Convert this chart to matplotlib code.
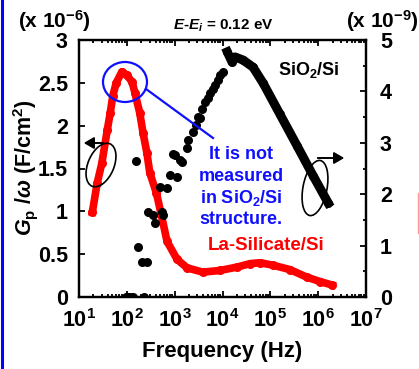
import matplotlib
matplotlib.use("Agg")
import matplotlib.pyplot as plt
import matplotlib.ticker as mticker
import matplotlib.transforms as mtransforms
from matplotlib.patches import Ellipse, FancyArrowPatch
from matplotlib.lines import Line2D

# La-Silicate/Si  (left axis, x 1e-6 F/cm2)
la_freq = [19, 24, 30, 39, 45, 51, 60, 79, 100, 129, 148, 186, 219, 263, 302,
           417, 525, 692, 1120, 1820, 3890, 8910, 20400, 38000, 61700,
           115000, 257000, 589000, 1.1e6, 1.95e6]
la_gp = [0.99, 1.33, 1.56, 1.95, 2.15, 2.35, 2.50, 2.63, 2.59, 2.51, 2.38,
         2.15, 1.91, 1.68, 1.45, 1.21, 0.96, 0.65, 0.44, 0.34, 0.29, 0.31,
         0.35, 0.39, 0.40, 0.37, 0.32, 0.23, 0.18, 0.14]

# SiO2/Si (right axis, x 1e-9 F/cm2) - scattered low-frequency part
si_freq_lo = [95, 105, 117, 135, 155, 170, 209, 229, 263, 275, 355, 389, 490,
              550, 575, 692, 794, 933, 1020, 1120, 1290, 1410, 1820, 1910,
              2400, 2820, 3090, 3390, 3800, 4370, 4900, 5500, 6300, 7080,
              7940, 8910, 10200]
si_gp_lo = [0, 0, 0, 0, 2.65, 0.97, 0.68, 0, 0.68, 1.65, 1.60, 1.44, 2.14,
            1.65, 1.60, 2.12, 2.37, 2.78, 2.76, 2.33, 2.67, 2.63, 2.90, 3.05,
            3.21, 3.35, 3.50, 3.48, 3.66, 3.79, 3.88, 3.97, 4.05, 4.12, 4.22,
            4.32, 4.38]
# SiO2/Si - continuous high-frequency part
si_freq_hi = [12600, 15800, 18200, 26900, 43600, 70800, 158000, 363000,
              794000, 1.62e6]
si_gp_hi = [4.77, 4.57, 4.67, 4.61, 4.47, 4.16, 3.56, 2.94, 2.35, 1.83]

x_ticks = [1e1, 1e2, 1e3, 1e4, 1e5, 1e6, 1e7]
x_labels = [r"$\mathbf{10^{%d}}$" % e for e in range(1, 8)]
yl_ticks = [0, 0.5, 1, 1.5, 2, 2.5, 3]
yl_labels = ["0", "0.5", "1", "1.5", "2", "2.5", "3"]
yr_ticks = [0, 1, 2, 3, 4, 5]
yr_labels = ["0", "1", "2", "3", "4", "5"]

W, H = 419, 369
RED = "#ff0000"
BLUE = "#1010ff"

plt.rcParams["font.family"] = "Liberation Sans"
plt.rcParams["font.weight"] = "bold"
plt.rcParams["mathtext.fontset"] = "custom"
plt.rcParams["mathtext.rm"] = "Liberation Sans:bold"
plt.rcParams["mathtext.bf"] = "Liberation Sans:bold"
plt.rcParams["mathtext.it"] = "Liberation Sans:italic:bold"
plt.rcParams["mathtext.bfit"] = "Liberation Sans:italic:bold"
plt.rcParams["mathtext.default"] = "bf"

fig = plt.figure(figsize=(W / 100, H / 100), dpi=100)
ax = fig.add_axes([79 / W, 1 - 297 / H, (366 - 79) / W, (297 - 40) / H])
ax2 = ax.twinx()

ax.plot(la_freq, la_gp, "-o", color=RED, lw=5.5, ms=6.5, mec="none", zorder=3)
ax2.plot(si_freq_lo, si_gp_lo, "o", color="black", ms=6.5, mec="none", zorder=3)
ax2.plot(si_freq_hi, si_gp_hi, "-o", color="black", lw=6.5, ms=6.5, mec="none", zorder=3)

ax.set_xscale("log")
ax.set_xlim(10, 1e7)
ax.set_ylim(0, 3)
ax2.set_ylim(0, 5)
ax.set_xticks(x_ticks, x_labels)
ax.xaxis.set_minor_locator(mticker.LogLocator(base=10, subs=range(2, 10), numticks=20))
ax.xaxis.set_minor_formatter(mticker.NullFormatter())
ax.set_yticks(yl_ticks, yl_labels)
ax2.set_yticks(yr_ticks, yr_labels)
ax2.yaxis.set_minor_locator(mticker.MultipleLocator(0.5))

ax.tick_params(which="both", direction="in", top=True, right=False, width=1.3)
ax.tick_params(which="major", length=4.5, labelsize=15.5)
ax.tick_params(which="minor", length=2.5)
ax.tick_params(axis="y", pad=8)
ax.tick_params(axis="x", pad=9)
ax2.tick_params(which="both", direction="in", width=1.3)
ax2.tick_params(which="major", length=4.5, labelsize=15.5, pad=10)
ax2.tick_params(which="minor", length=2.5)
for a in (ax, ax2):
    for s in a.spines.values():
        s.set_linewidth(1.6)

ax.set_xlabel("Frequency (Hz)", fontsize=16, fontweight="bold", labelpad=6)
fig.text(25 / W, 1 - 168 / H, r"$\mathit{G}_{p}$ /$\mathit{\omega}$ (F/cm$^{2}$)",
         rotation=90, ha="center", va="center", fontsize=15.5)

fig.text(54 / W, 1 - 21 / H, r"(x 10$^{-6}$)", ha="center", va="center", fontsize=15)
fig.text(382 / W, 1 - 21 / H, r"(x 10$^{-9}$)", ha="center", va="center", fontsize=15)
fig.text(223 / W, 1 - 26 / H, r"$\mathit{E}$-$\mathit{E}_{\mathit{i}}$ = 0.12 eV",
         ha="center", va="center", fontsize=11)

fig.text(309 / W, 1 - 70 / H, r"SiO$_{2}$/Si", ha="center", va="center", fontsize=13)
fig.text(266 / W, 1 - 246 / H, "La-Silicate/Si", ha="center", va="center",
         fontsize=13.5, color=RED)
blue_lines = ["It is not", "measured", r"in SiO$_{2}$/Si", "structure."]
for i, t in enumerate(blue_lines):
    fig.text(241 / W, 1 - (155 + 21.5 * i) / H, t, ha="center", va="center",
             fontsize=13, color=BLUE)

# annotation shapes in pixel space (origin bottom-left)
T = mtransforms.IdentityTransform()


def d(x, y):
    return (x, H - y)


fig.add_artist(Ellipse(d(125, 82), 44, 40, fill=False, ec=BLUE, lw=1.6, transform=T))
fig.add_artist(Line2D([146, 213], [H - 89, H - 138], color=BLUE, lw=1.6, transform=T))
fig.add_artist(Ellipse(d(101, 165), 46, 26, angle=67, fill=False, ec="black", lw=1.2, transform=T))
fig.add_artist(Ellipse(d(315, 188), 56, 24, angle=79, fill=False, ec="black", lw=1.2, transform=T))
fig.add_artist(FancyArrowPatch(d(106, 143), d(81, 143), arrowstyle="-|>,head_length=6,head_width=3.5",
                               color="black", lw=1.4, transform=T, mutation_scale=1))
fig.add_artist(FancyArrowPatch(d(315, 158), d(347, 158), arrowstyle="-|>,head_length=6,head_width=3.5",
                               color="black", lw=1.4, transform=T, mutation_scale=1))

# frame marks at image edges
fig.add_artist(Line2D([1.5, 1.5], [0, H], color="#0000ff", lw=2.2, transform=T))
fig.add_artist(Line2D([418, 418], [H - 193, H - 233], color="#ff9a9a", lw=1.0, transform=T))

fig.canvas.draw()
for lbl in ax.get_xticklabels() + ax.get_yticklabels() + ax2.get_yticklabels():
    lbl.set_fontweight("bold")

fig.savefig("out.png", dpi=100)
